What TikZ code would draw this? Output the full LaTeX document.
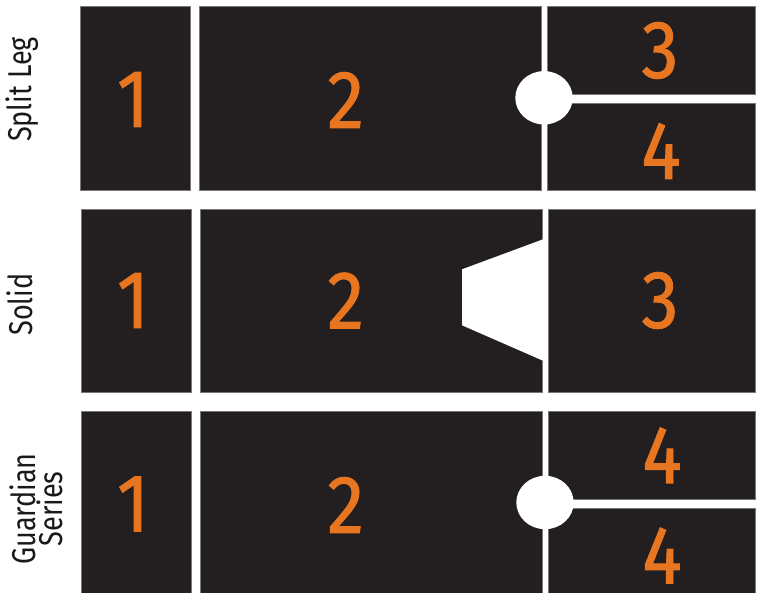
\documentclass[tikz,border=0pt]{standalone}
\usepackage{fontspec}
\setmainfont{Fira Sans}
\definecolor{panel}{RGB}{35,31,32}
\definecolor{edge}{RGB}{120,120,120}
\definecolor{num}{RGB}{232,117,32}
\newcommand{\dg}[1]{\scalebox{0.9}[1]{#1}}
\begin{document}
\begin{tikzpicture}[x=1pt,y=-1pt,
  panelbox/.style={fill=panel,draw=edge,line width=0.6pt},
  digit/.style={text=num,inner sep=0pt,font=\fontsize{82}{82}\selectfont\addfontfeature{FakeBold=1.2}},
  rowlabel/.style={rotate=90,anchor=base,inner sep=0pt,text=black!90,font=\fontsize{33}{33}\selectfont},
  hole/.style={fill=white,draw=none}]
\useasboundingbox (0,0) rectangle (757,592);
% Row 1: Split Leg
\draw[panelbox] (80,6.7) rectangle (190.7,190.7);
\draw[panelbox] (199.5,6.7) rectangle (541.3,190.7);
\draw[panelbox] (547.3,6.7) rectangle (755,94.3);
\draw[panelbox] (547.3,103.3) rectangle (755,190.7);
\fill[hole] (544,97.8) ellipse [x radius=28.7, y radius=26.7];
\node[digit] (r1a) at (133,99.5) {\dg{1}};
\node[digit] (r1b) at (345.7,100) {\dg{2}};
\node[digit] (r1c) at (660,50.5) {\dg{3}};
\node[digit] (r1d) at (661,151) {\dg{4}};
\node[rowlabel] (l1) at (31.7,89.5) {\scalebox{0.82}[1]{Split Leg}};
% Row 2: Solid
\draw[panelbox] (81.7,209.3) rectangle (191.5,392.7);
\draw[panelbox] (200,209.3) rectangle (542,392.7);
\draw[panelbox] (548,209.3) rectangle (755,392.7);
\fill[hole] (543,239.3) -- (462,269.3) -- (462,325.3) -- (543,360.7) -- cycle;
\node[digit] (r2a) at (133,300.5) {\dg{1}};
\node[digit] (r2b) at (345.7,300.5) {\dg{2}};
\node[digit] (r2c) at (660,300.5) {\dg{3}};
\node[rowlabel] (l2) at (32,304.5) {\scalebox{0.82}[1]{Solid}};
% Row 3: Guardian Series
\draw[panelbox] (81.3,411.3) rectangle (191.3,595);
\draw[panelbox] (200,411.3) rectangle (542,595);
\draw[panelbox] (548.7,411.3) rectangle (755,499.3);
\draw[panelbox] (548.7,508) rectangle (755,595);
\fill[hole] (545,502.5) ellipse [x radius=28.7, y radius=26.7];
\node[digit] (r3a) at (133,504) {\dg{1}};
\node[digit] (r3b) at (345.7,505) {\dg{2}};
\node[digit] (r3c) at (662,455.3) {\dg{4}};
\node[digit] (r3d) at (662,555.5) {\dg{4}};
\node[rowlabel] (l3a) at (35,509) {\scalebox{0.82}[1]{Guardian}};
\node[rowlabel] (l3b) at (62,509) {\scalebox{0.82}[1]{Series}};
\end{tikzpicture}
\end{document}
